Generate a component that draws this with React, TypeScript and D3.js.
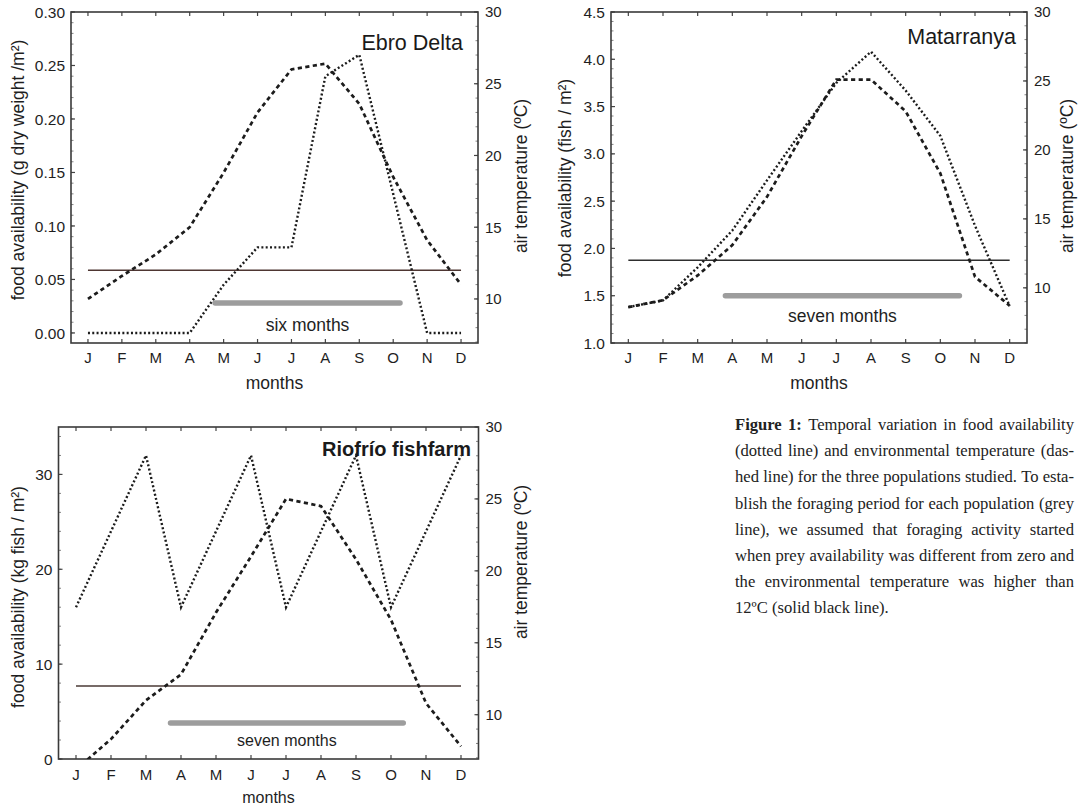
import React, { useEffect, useRef } from 'react';
import * as d3 from 'd3';

// month labels shared by all panels
const MONTHS = ['J', 'F', 'M', 'A', 'M', 'J', 'J', 'A', 'S', 'O', 'N', 'D'];

// Ebro Delta: food (g dry weight / m2) and air temperature (ºC)
const ebroFood = [0, 0, 0, 0, 0.045, 0.08, 0.08, 0.24, 0.26, 0.13, 0, 0];
const ebroTemp = [10.0, 11.6, 13.1, 15.0, 18.8, 23.0, 26.0, 26.4, 23.6, 18.5, 14.1, 11.0];
const ebroFoodTicks = [0, 0.05, 0.1, 0.15, 0.2, 0.25, 0.3];
const ebroForaging = [3.75, 9.2];
const ebroBarLevel = 0.028;

// Matarranya: food (fish / m2)
const mataFood = [1.38, 1.45, 1.8, 2.19, 2.72, 3.24, 3.75, 4.08, 3.67, 3.19, 2.24, 1.39];
const mataTemp = [8.6, 9.1, 10.9, 13.1, 16.6, 21.0, 25.1, 25.1, 22.8, 18.3, 10.8, 8.7];
const mataFoodTicks = [1.0, 1.5, 2.0, 2.5, 3.0, 3.5, 4.0, 4.5];
const mataForaging = [2.8, 9.55];
const mataBarLevel = 1.5;

// Riofrío fishfarm: food (kg fish / m2)
const rioFood = [16, 24, 32, 16, 24, 32, 16, 24, 32, 16, 24, 32];
const rioTemp = [6.2, 8.3, 11.0, 12.8, 17.1, 21.0, 25.0, 24.5, 20.8, 16.6, 10.8, 7.8];
const rioFoodTicks = [0, 10, 20, 30];
const rioForaging = [2.7, 9.35];
const rioBarLevel = 3.8;

const tempTicks = [10, 15, 20, 25, 30];
const THRESHOLD = 12;

const CAPTION = [
  'Figure 1: Temporal variation in food availability',
  '(dotted line) and environmental temperature (das-',
  'hed line) for the three populations studied. To esta-',
  'blish the foraging period for each population (grey',
  'line), we assumed that foraging activity started',
  'when prey availability was different from zero and',
  'the environmental temperature was higher than',
  '12ºC (solid black line).',
];

const SANS = 'Liberation Sans, Arial, Helvetica, sans-serif';

const panels = [
  {
    id: 'ebro', left: 71, right: 478, top: 12, bottom: 343,
    food: ebroFood, temp: ebroTemp, foodTicks: ebroFoodTicks,
    foodDomain: [-0.0094, 0.3], tempDomain: [6.93, 30], fmt: d3.format('.2f'), minorStep: 0.01,
    foraging: ebroForaging, barLevel: ebroBarLevel, barText: 'six months', barTextDy: 28, barFont: 17.5,
    title: 'Ebro Delta', titleX: 463, titleY: 50, titleBold: false, titleSize: 21.5,
    yLabel: 'food availability (g dry weight /m²)', yLabelX: 24, yLabelY: 170,
    rLabelX: 527, rLabelY: 176, monthY: 363, monthsY: 389, axisFont: 17.5,
    thresholdColor: '#4e3632',
  },
  {
    id: 'mata', left: 611, right: 1027, top: 12, bottom: 343,
    food: mataFood, temp: mataTemp, foodTicks: mataFoodTicks,
    foodDomain: [1.0, 4.5], tempDomain: [6, 30], fmt: d3.format('.1f'), minorStep: 0.1,
    foraging: mataForaging, barLevel: mataBarLevel, barText: 'seven months', barTextDy: 26, barFont: 17.5,
    title: 'Matarranya', titleX: 1016, titleY: 44, titleBold: false, titleSize: 21.5,
    yLabel: 'food availability (fish / m²)', yLabelX: 571, yLabelY: 178,
    rLabelX: 1073, rLabelY: 176, monthY: 363, monthsY: 389, axisFont: 17.5,
    thresholdColor: '#2e2e2e',
  },
  {
    id: 'rio', left: 58.5, right: 478.5, top: 427, bottom: 759,
    food: rioFood, temp: rioTemp, foodTicks: rioFoodTicks,
    foodDomain: [0, 35], tempDomain: [6.92, 30], fmt: d3.format('d'), minorStep: 2,
    foraging: rioForaging, barLevel: rioBarLevel, barText: 'seven months', barTextDy: 23, barFont: 16,
    title: 'Riofrío fishfarm', titleX: 471, titleY: 456, titleBold: true, titleSize: 20,
    yLabel: 'food availability (kg fish / m²)', yLabelX: 24, yLabelY: 597,
    rLabelX: 527, rLabelY: 562, monthY: 780, monthsY: 803, axisFont: 16,
    thresholdColor: '#4a3a36',
  },
];

function drawPanel(svg, p) {
  const g = svg.append('g').attr('font-family', SANS).attr('fill', '#1e1e1e');

  const x = d3.scaleLinear().domain([-0.5, 11.5]).range([p.left, p.right]);
  const yL = d3.scaleLinear().domain(p.foodDomain).range([p.bottom, p.top]);
  const yR = d3.scaleLinear().domain(p.tempDomain).range([p.bottom, p.top]);
  const idx = d3.range(12);

  g.append('clipPath').attr('id', `clip-${p.id}`)
    .append('rect')
    .attr('x', p.left).attr('y', p.top)
    .attr('width', p.right - p.left).attr('height', p.bottom - p.top);

  // month ticks, top and bottom, pointing inward
  idx.forEach(i => {
    g.append('line').attr('x1', x(i)).attr('x2', x(i)).attr('y1', p.top).attr('y2', p.top + 4)
      .attr('stroke', '#444').attr('stroke-width', 1.2);
    g.append('line').attr('x1', x(i)).attr('x2', x(i)).attr('y1', p.bottom).attr('y2', p.bottom - 4)
      .attr('stroke', '#444').attr('stroke-width', 1.2);
  });

  // left axis ticks
  const [f0, f1] = yL.domain();
  d3.range(Math.ceil(f0 / p.minorStep) * p.minorStep, f1 + 1e-9, p.minorStep).forEach(v => {
    g.append('line').attr('x1', p.left).attr('x2', p.left + 2.5).attr('y1', yL(v)).attr('y2', yL(v))
      .attr('stroke', '#666').attr('stroke-width', 0.8);
  });
  p.foodTicks.forEach(v => {
    g.append('line').attr('x1', p.left).attr('x2', p.left + 4).attr('y1', yL(v)).attr('y2', yL(v))
      .attr('stroke', '#444').attr('stroke-width', 1.2);
    g.append('text').attr('x', p.left - 6).attr('y', yL(v)).attr('dy', '0.36em')
      .attr('text-anchor', 'end').attr('font-size', 15.5).text(p.fmt(v));
  });

  // right axis ticks
  d3.range(Math.ceil(p.tempDomain[0]), 30.001, 1).forEach(v => {
    g.append('line').attr('x1', p.right).attr('x2', p.right - 2.5).attr('y1', yR(v)).attr('y2', yR(v))
      .attr('stroke', '#666').attr('stroke-width', 0.8);
  });
  tempTicks.forEach(v => {
    g.append('line').attr('x1', p.right).attr('x2', p.right - 4).attr('y1', yR(v)).attr('y2', yR(v))
      .attr('stroke', '#444').attr('stroke-width', 1.2);
    g.append('text').attr('x', p.right + 7).attr('y', yR(v)).attr('dy', '0.36em')
      .attr('font-size', 15).text(v);
  });

  // frame
  g.append('rect')
    .attr('x', p.left).attr('y', p.top)
    .attr('width', p.right - p.left).attr('height', p.bottom - p.top)
    .attr('fill', 'none').attr('stroke', '#3a3a3a').attr('stroke-width', 1.6);

  // 12 ºC threshold
  g.append('line')
    .attr('x1', x(0)).attr('x2', x(11))
    .attr('y1', yR(THRESHOLD)).attr('y2', yR(THRESHOLD))
    .attr('stroke', p.thresholdColor).attr('stroke-width', 1.6);

  // foraging period
  g.append('line')
    .attr('x1', x(p.foraging[0])).attr('x2', x(p.foraging[1]))
    .attr('y1', yL(p.barLevel)).attr('y2', yL(p.barLevel))
    .attr('stroke', '#9d9d9d').attr('stroke-width', 5.5).attr('stroke-linecap', 'round');
  g.append('text')
    .attr('x', x((p.foraging[0] + p.foraging[1]) / 2)).attr('y', yL(p.barLevel) + p.barTextDy)
    .attr('text-anchor', 'middle').attr('font-size', p.barFont).text(p.barText);

  const lines = g.append('g').attr('clip-path', `url(#clip-${p.id})`);

  // temperature (dashed)
  lines.append('path')
    .datum(p.temp)
    .attr('d', d3.line().x((d, i) => x(i)).y(d => yR(d)))
    .attr('fill', 'none').attr('stroke', '#1c1c1c').attr('stroke-width', 2.7)
    .attr('stroke-dasharray', '4.2 3.4');

  // food availability (dotted)
  lines.append('path')
    .datum(p.food)
    .attr('d', d3.line().x((d, i) => x(i)).y(d => yL(d)))
    .attr('fill', 'none').attr('stroke', '#1c1c1c').attr('stroke-width', 2.4)
    .attr('stroke-dasharray', '2 2.3');

  // title
  g.append('text')
    .attr('x', p.titleX).attr('y', p.titleY).attr('text-anchor', 'end')
    .attr('font-size', p.titleSize).attr('font-weight', p.titleBold ? 'bold' : 'normal')
    .attr('fill', '#1a1a1a').text(p.title);

  // month labels
  idx.forEach(i => {
    g.append('text').attr('x', x(i)).attr('y', p.monthY).attr('text-anchor', 'middle')
      .attr('font-size', 15).text(MONTHS[i]);
  });
  g.append('text')
    .attr('x', (p.left + p.right) / 2).attr('y', p.monthsY).attr('text-anchor', 'middle')
    .attr('font-size', p.axisFont).text('months');

  // axis titles
  g.append('text')
    .attr('transform', `translate(${p.yLabelX},${p.yLabelY}) rotate(-90)`)
    .attr('text-anchor', 'middle').attr('font-size', 17.5).text(p.yLabel);
  g.append('text')
    .attr('transform', `translate(${p.rLabelX},${p.rLabelY}) rotate(-90)`)
    .attr('text-anchor', 'middle').attr('font-size', 17.5).text('air temperature (ºC)');
}

function drawCaption(svg) {
  const left = 735;
  const right = 1074;
  const cap = svg.append('g')
    .attr('font-family', 'Liberation Serif, Times New Roman, serif')
    .attr('font-size', 16.6)
    .attr('fill', '#222');

  CAPTION.forEach((line, i) => {
    const words = line.split(' ');
    const y = 430 + i * 26.2;
    const nodes = words.map((w, j) =>
      cap.append('text')
        .attr('y', y)
        .attr('font-weight', i === 0 && j < 2 ? 'bold' : 'normal')
        .text(w));
    const widths = nodes.map(n => n.node().getComputedTextLength());
    const last = i === CAPTION.length - 1;
    const gap = last ? 4.2 : (right - left - d3.sum(widths)) / (words.length - 1);
    let cx = left;
    nodes.forEach((n, j) => {
      n.attr('x', cx);
      cx += widths[j] + gap;
    });
  });
}

const App = () => {
  const svgRef = useRef(null);

  useEffect(() => {
    const svg = d3.select(svgRef.current);
    svg.selectAll('*').remove();
    svg.append('rect').attr('width', 1087).attr('height', 808).attr('fill', '#fff');
    panels.forEach(p => drawPanel(svg, p));
    drawCaption(svg);
  }, []);

  return (
    <svg
      ref={svgRef}
      width={1087}
      height={808}
      style={{ position: 'absolute', left: 0, top: 0, display: 'block' }}
    />
  );
};

export default App;
